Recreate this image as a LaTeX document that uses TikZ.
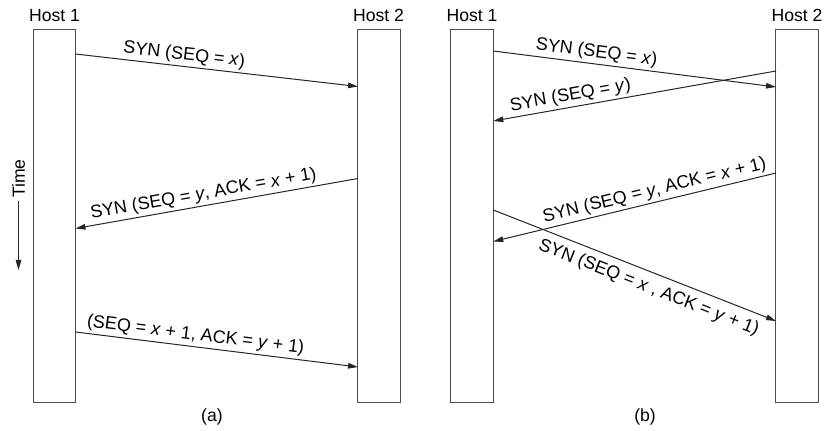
\documentclass[tikz,border=0pt]{standalone}
\usepackage{fontspec}
\setmainfont{Liberation Sans}
\usetikzlibrary{arrows.meta}
\begin{document}
\begin{tikzpicture}[x=0.5pt,y=-0.5pt,
  font=\fontsize{8.8}{10.5}\selectfont,
  hostbox/.style={draw=black!70,line width=0.5pt,minimum width=21.25pt,minimum height=186.5pt,inner sep=0pt},
  msg/.style={draw=black!85,line width=0.5pt,-{Triangle[length=5pt,width=2.8pt]}},
  rmsg/.style={draw=black!85,line width=0.5pt,{Triangle[length=5pt,width=2.8pt]}-},
  lbl/.style={sloped,inner sep=1.2pt,font=\fontsize{9}{10.5}\selectfont},
  hostlbl/.style={anchor=base,inner sep=0pt}]
\useasboundingbox (0,0) rectangle (828,431);
% boxes
\node[hostbox] (a1) at (54.25,216.5) {};
\node[hostbox] (a2) at (379,216.5) {};
\node[hostbox] (b1) at (472.2,216.5) {};
\node[hostbox] (b2) at (797.2,216.5) {};
% host labels
\node[hostlbl] (ha1) at (54.5,22) {Host 1};
\node[hostlbl] (ha2) at (378.5,22) {Host 2};
\node[hostlbl] (hb1) at (472,22) {Host 1};
\node[hostlbl] (hb2) at (797,22) {Host 2};
% time
\node[rotate=90,inner sep=0pt] (time) at (18.5,178.5) {Time};
\coordinate (tend) at (18.5,270);
\draw[msg] (time.west) ++(0,3) coordinate (tstart) (tstart) -- (tend);
% panel (a) endpoints
\coordinate (a1s) at (75.5,54);
\coordinate (a1e) at (358,86.5);
\coordinate (a2s) at (358,178.5);
\coordinate (a2e) at (75.5,228.5);
\coordinate (a3s) at (75.5,332);
\coordinate (a3e) at (358,367);
\draw[msg] (a1s) -- node[lbl,above,pos=0.38] {SYN (SEQ = \textit{x})} (a1e);
\draw[rmsg] (a2e) -- node[lbl,above,pos=0.46] {SYN (SEQ = \textit{y}, ACK = \textit{x} + 1)} (a2s);
\draw[msg] (a3s) -- node[lbl,above,pos=0.42] {(SEQ = \textit{x} + 1, ACK = \textit{y} + 1)} (a3e);
% panel (b) endpoints
\coordinate (b1s) at (493.3,51);
\coordinate (b1e) at (776,87);
\coordinate (b2s) at (776,71);
\coordinate (b2e) at (493.3,121);
\coordinate (b3s) at (776,173);
\coordinate (b3e) at (493.3,241.5);
\coordinate (b4s) at (493.3,210);
\coordinate (b4e) at (776,321);
\draw[msg] (b1s) -- node[lbl,above,pos=0.36] {SYN (SEQ = \textit{x})} (b1e);
\draw[rmsg] (b2e) -- node[lbl,above,pos=0.28] {SYN (SEQ = \textit{y})} (b2s);
\draw[rmsg] (b3e) -- node[lbl,above,pos=0.58] {SYN (SEQ = \textit{y}, ACK = \textit{x} + 1)} (b3s);
\draw[msg] (b4s) -- node[lbl,below=2.2pt,pos=0.57] {SYN (SEQ = \textit{x} , ACK = \textit{y} + 1)} (b4e);
% captions
\node (capa) at (212,417) {(a)};
\node (capb) at (645,417) {(b)};
\end{tikzpicture}
\end{document}
